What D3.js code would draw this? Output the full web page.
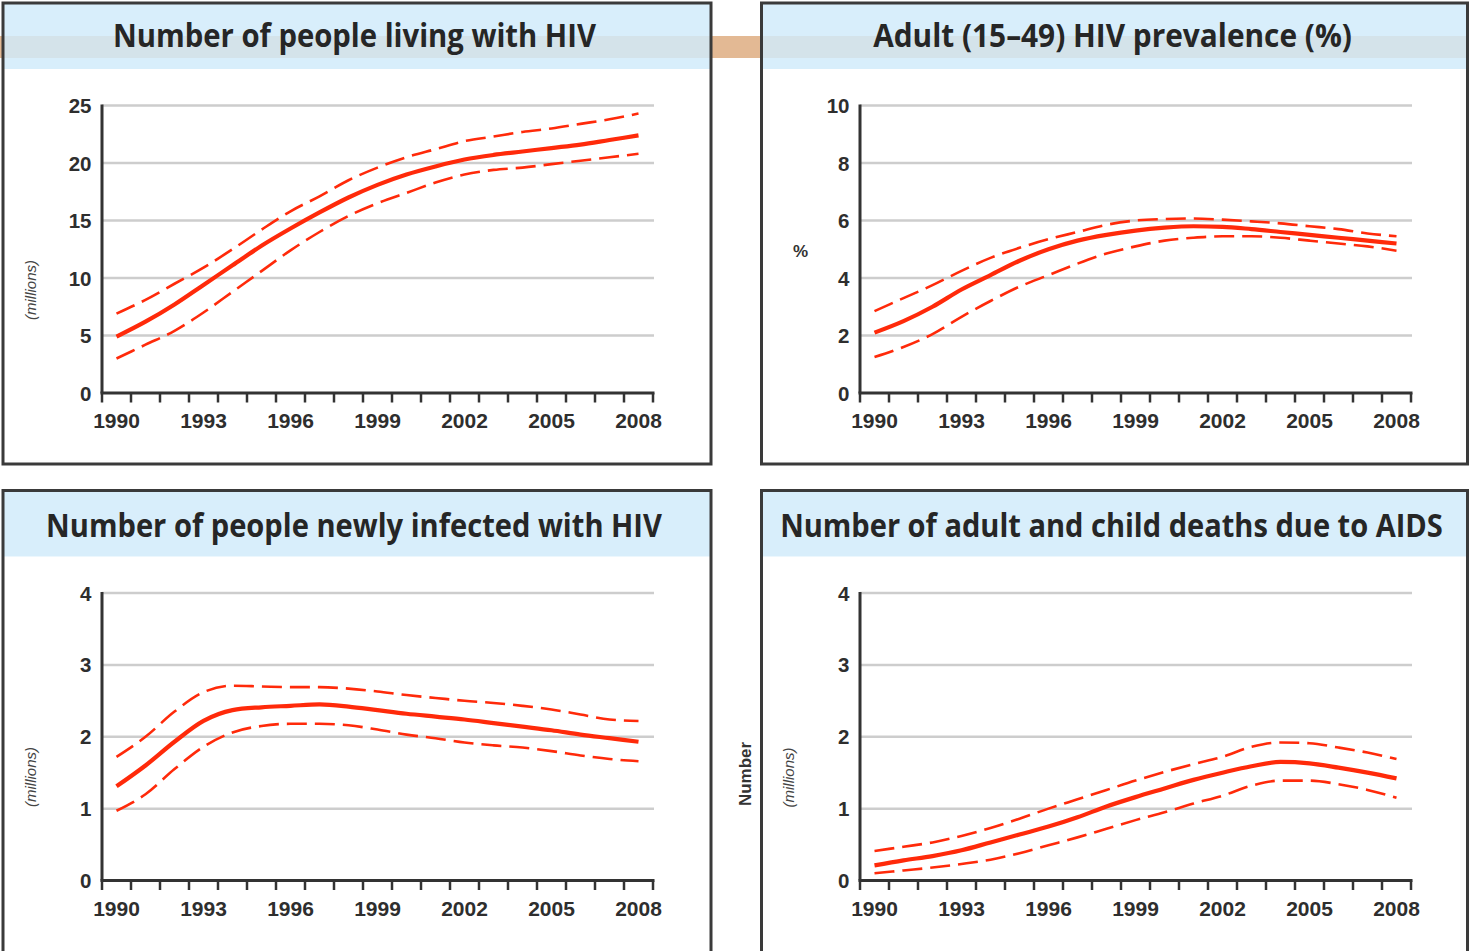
<!DOCTYPE html>
<html>
<head>
<meta charset="utf-8">
<script src="https://cdn.jsdelivr.net/npm/d3@7"></script>
<style>
  html, body { margin: 0; padding: 0; background: #fff; }
  svg { display: block; }
</style>
</head>
<body>
<svg id="chart" width="1469" height="951"></svg>
<script>
// ---- Data -------------------------------------------------------------
const years = [1990, 1991, 1992, 1993, 1994, 1995, 1996, 1997, 1998, 1999,
               2000, 2001, 2002, 2003, 2004, 2005, 2006, 2007, 2008];
const yearLabels = [1990, 1993, 1996, 1999, 2002, 2005, 2008];

const titles = [
  "Number of people living with HIV",
  "Adult (15\u201349) HIV prevalence (%)",
  "Number of people newly infected with HIV",
  "Number of adult and child deaths due to AIDS"
];

// People living with HIV (millions): estimate, upper and lower bounds
const livingCentral = [4.9, 6.2, 7.7, 9.4, 11.1, 12.8, 14.3, 15.7, 17.0, 18.1,
                       19.0, 19.7, 20.3, 20.7, 21.0, 21.3, 21.6, 22.0, 22.4];
const livingUpper   = [6.9, 8.1, 9.5, 10.9, 12.5, 14.2, 15.8, 17.1, 18.5, 19.6,
                       20.5, 21.2, 21.9, 22.3, 22.7, 23.0, 23.4, 23.8, 24.3];
const livingLower   = [3.0, 4.2, 5.4, 7.0, 8.8, 10.6, 12.4, 14.0, 15.4, 16.5,
                       17.4, 18.3, 19.0, 19.4, 19.6, 19.9, 20.2, 20.5, 20.8];

// Adult (15-49) prevalence (%)
const prevalenceCentral = [2.1, 2.5, 3.0, 3.6, 4.1, 4.6, 5.0, 5.3, 5.5, 5.65,
                           5.75, 5.8, 5.78, 5.7, 5.6, 5.5, 5.4, 5.3, 5.2];
const prevalenceUpper   = [2.85, 3.3, 3.75, 4.25, 4.7, 5.05, 5.35, 5.6, 5.85, 6.0,
                           6.05, 6.07, 6.03, 5.97, 5.9, 5.8, 5.7, 5.55, 5.45];
const prevalenceLower   = [1.25, 1.6, 2.05, 2.65, 3.2, 3.7, 4.1, 4.5, 4.85, 5.1,
                           5.3, 5.4, 5.45, 5.45, 5.4, 5.3, 5.2, 5.1, 4.95];

// People newly infected (millions)
const newInfCentral = [1.31, 1.6, 1.93, 2.22, 2.37, 2.41, 2.43, 2.45, 2.42, 2.37,
                       2.32, 2.28, 2.24, 2.19, 2.14, 2.09, 2.03, 1.98, 1.93];
const newInfUpper   = [1.72, 2.0, 2.35, 2.62, 2.71, 2.70, 2.69, 2.69, 2.67, 2.63,
                       2.58, 2.54, 2.50, 2.47, 2.43, 2.38, 2.31, 2.24, 2.22];
const newInfLower   = [0.97, 1.2, 1.55, 1.86, 2.06, 2.15, 2.18, 2.18, 2.16, 2.10,
                       2.03, 1.98, 1.92, 1.88, 1.85, 1.80, 1.74, 1.69, 1.66];

// Adult and child deaths due to AIDS (millions)
const deathsCentral = [0.21, 0.28, 0.34, 0.42, 0.53, 0.64, 0.75, 0.88, 1.03, 1.16,
                       1.28, 1.40, 1.50, 1.59, 1.65, 1.63, 1.57, 1.50, 1.42];
const deathsUpper   = [0.41, 0.47, 0.53, 0.62, 0.73, 0.86, 1.0, 1.13, 1.26, 1.39,
                       1.51, 1.62, 1.72, 1.86, 1.92, 1.91, 1.85, 1.78, 1.69];
const deathsLower   = [0.10, 0.14, 0.18, 0.23, 0.29, 0.38, 0.49, 0.60, 0.72, 0.84,
                       0.95, 1.07, 1.18, 1.32, 1.39, 1.39, 1.34, 1.26, 1.15];

const livingTicks = [0, 5, 10, 15, 20, 25];
const prevalenceTicks = [0, 2, 4, 6, 8, 10];
const millionsTicks = [0, 1, 2, 3, 4];

// ---- Layout -----------------------------------------------------------
const panels = [
  { title: titles[0], frame: [3, 3, 708, 461], header: [3, 3, 708, 66],
    titleX: 354.5, titleY: 46.5, titleLen: 483,
    left: 102, zeroY: 393, topY: 105.5, ticks: livingTicks,
    series: [livingCentral, livingUpper, livingLower],
    labels: [{ text: "(millions)", x: 31, y: 290, rotate: true, kind: "unit" }] },
  { title: titles[1], frame: [761.5, 3, 706, 461], header: [761.5, 3, 706, 66],
    titleX: 1112.5, titleY: 46.5, titleLen: 479,
    left: 860, zeroY: 393, topY: 105.5, ticks: prevalenceTicks,
    series: [prevalenceCentral, prevalenceUpper, prevalenceLower],
    labels: [{ text: "%", x: 800.5, y: 256.5, rotate: false, kind: "pct" }] },
  { title: titles[2], frame: [3, 490.5, 708, 480], header: [3, 490.5, 708, 66],
    titleX: 354, titleY: 536.5, titleLen: 616,
    left: 102, zeroY: 880.5, topY: 593, ticks: millionsTicks,
    series: [newInfCentral, newInfUpper, newInfLower],
    labels: [{ text: "(millions)", x: 31, y: 777, rotate: true, kind: "unit" }] },
  { title: titles[3], frame: [761.5, 490.5, 706, 480], header: [761.5, 490.5, 706, 66],
    titleX: 1111.5, titleY: 536.5, titleLen: 663,
    left: 860, zeroY: 880.5, topY: 593, ticks: millionsTicks,
    series: [deathsCentral, deathsUpper, deathsLower],
    labels: [{ text: "Number", x: 745.5, y: 774, rotate: true, kind: "name" },
             { text: "(millions)", x: 789, y: 777.5, rotate: true, kind: "unit" }] }
];

const plotWidth = 551;     // 19 yearly bands of 29px
const gridRight = 552;
const red = "#ff2a0a";

const svg = d3.select("#chart");
svg.append("rect").attr("width", 1469).attr("height", 951).attr("fill", "#fff");

// orange band running behind the top headers
svg.append("rect")
  .attr("x", 0).attr("y", 36).attr("width", 1469).attr("height", 22)
  .attr("fill", "#e3b994");

panels.forEach(p => {
  const g = svg.append("g");

  // header strip and frame
  g.append("rect")
    .attr("x", p.header[0]).attr("y", p.header[1])
    .attr("width", p.header[2]).attr("height", p.header[3])
    .attr("fill", "rgb(209,235,250)").attr("fill-opacity", 0.84);
  g.append("rect")
    .attr("x", p.frame[0]).attr("y", p.frame[1])
    .attr("width", p.frame[2]).attr("height", p.frame[3])
    .attr("fill", "none").attr("stroke", "#3a3a3a").attr("stroke-width", 3);

  // title, horizontally condensed to its target width
  const title = g.append("text")
    .attr("text-anchor", "middle")
    .attr("font-family", "'Open Sans', 'Noto Sans', sans-serif")
    .attr("font-weight", 700)
    .attr("font-size", 33)
    .attr("fill", "#262626")
    .text(p.title);
  const natural = title.node().getComputedTextLength();
  title.attr("transform", `translate(${p.titleX},${p.titleY}) scale(${p.titleLen / natural},1)`);

  // scales
  const x = d3.scaleBand().domain(years).range([p.left, p.left + plotWidth]).padding(0);
  const y = d3.scaleLinear().domain([0, d3.max(p.ticks)]).range([p.zeroY, p.topY]);
  const cx = d => x(d) + x.bandwidth() / 2;

  // horizontal gridlines
  g.selectAll(".grid").data(p.ticks.filter(t => t > 0)).join("line")
    .attr("x1", p.left).attr("x2", p.left + gridRight)
    .attr("y1", d => y(d)).attr("y2", d => y(d))
    .attr("stroke", "#cdcdcd").attr("stroke-width", 2.5);

  // y-axis line and tick labels
  g.append("line")
    .attr("x1", p.left).attr("x2", p.left)
    .attr("y1", y(d3.max(p.ticks)) - 1).attr("y2", p.zeroY)
    .attr("stroke", "#333").attr("stroke-width", 3);
  g.selectAll(".ylab").data(p.ticks).join("text")
    .attr("x", p.left - 10.5).attr("y", d => y(d) + 7.5)
    .attr("text-anchor", "end")
    .attr("font-family", "'Liberation Sans', Arial, sans-serif")
    .attr("font-weight", "bold").attr("font-size", 20.5)
    .attr("fill", "#2e2e2e")
    .text(d => d);

  // x-axis with ticks at year boundaries, labels centred on the years
  const xr = x.range();
  g.append("line")
    .attr("x1", xr[0] - 1.5).attr("x2", xr[1] + 1.5)
    .attr("y1", p.zeroY).attr("y2", p.zeroY)
    .attr("stroke", "#333").attr("stroke-width", 3);
  const bounds = years.map(d => x(d)).concat([xr[1]]);
  g.selectAll(".xtick").data(bounds).join("line")
    .attr("x1", d => d).attr("x2", d => d)
    .attr("y1", p.zeroY).attr("y2", p.zeroY + 9.5)
    .attr("stroke", "#333").attr("stroke-width", 2.5);
  g.selectAll(".xlab").data(yearLabels).join("text")
    .attr("x", d => cx(d)).attr("y", p.zeroY + 35)
    .attr("text-anchor", "middle")
    .attr("font-family", "'Liberation Sans', Arial, sans-serif")
    .attr("font-weight", "bold").attr("font-size", 21)
    .attr("fill", "#2e2e2e")
    .text(d => d);

  // estimate (solid) and bounds (dashed)
  const line = d3.line().x((d, i) => cx(years[i])).y(d => y(d)).curve(d3.curveMonotoneX);
  p.series.forEach((s, k) => {
    g.append("path")
      .datum(s)
      .attr("d", line)
      .attr("fill", "none")
      .attr("stroke", red)
      .attr("stroke-width", k === 0 ? 4.2 : 2.6)
      .attr("stroke-dasharray", k === 0 ? null : "20,8")
      .attr("stroke-linejoin", "round");
  });

  // axis captions
  p.labels.forEach(l => {
    const t = g.append("text")
      .attr("transform", l.rotate ? `translate(${l.x},${l.y}) rotate(-90)` : `translate(${l.x},${l.y})`)
      .attr("text-anchor", "middle")
      .attr("font-family", "'Liberation Sans', Arial, sans-serif")
      .attr("fill", "#333")
      .text(l.text);
    if (l.kind === "unit") {
      t.attr("font-style", "italic").attr("font-size", 15).attr("fill", "#444").attr("dy", "0.35em");
    } else if (l.kind === "name") {
      t.attr("font-weight", "bold").attr("font-size", 17).attr("dy", "0.35em");
    } else {
      t.attr("font-weight", "bold").attr("font-size", 17);
    }
  });
});
</script>
</body>
</html>
